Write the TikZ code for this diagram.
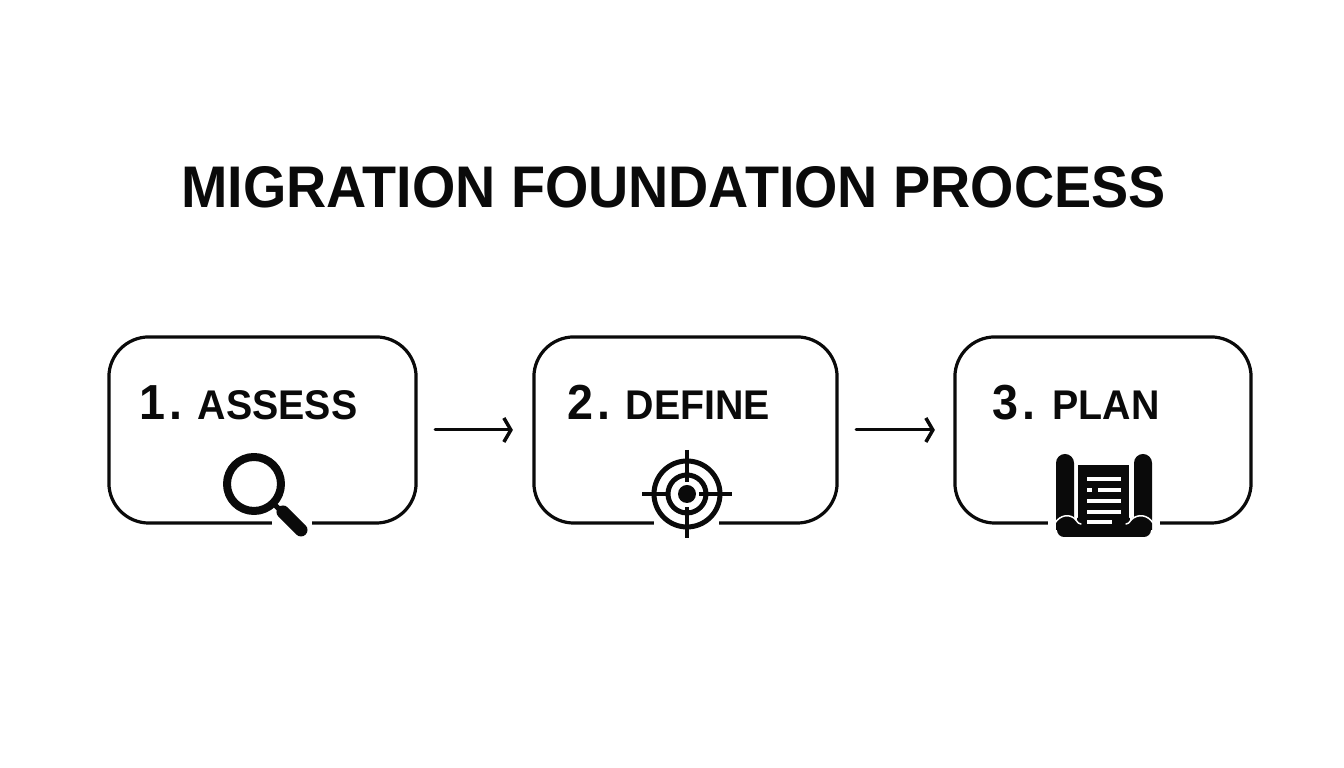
\documentclass[tikz,border=0pt]{standalone}
\usepackage{fontspec}
\setmainfont{Liberation Sans}[FakeStretch=.948]
\usetikzlibrary{arrows.meta}
\tikzset{
  stepbox/.style={draw=inkcol, line width=.032cm, rounded corners=.4cm, minimum height=1.86cm, outer sep=0pt, inner sep=0pt},
  stepnum/.style={anchor=base west, inner sep=0pt, text=inkcol, font=\fontsize{14}{16}\selectfont\bfseries},
  stepname/.style={anchor=base west, inner sep=0pt, text=inkcol, font=\fontsize{11.8}{14}\selectfont\bfseries},
  flow/.style={draw=inkcol, line width=.03cm, -{Straight Barb[length=.07cm,width=.24cm,line width=.035cm]}},
}
\definecolor{inkcol}{HTML}{0A0A0A}
\begin{document}
\begin{tikzpicture}[x=.01cm, y=-.01cm, line join=round, line cap=round]
  \useasboundingbox (0,0) rectangle (1344,768);
  \fill[white] (0,0) rectangle (1344,768);
  \node[anchor=base, inner sep=0pt, text=inkcol, font=\fontsize{16.7}{20}\selectfont\bfseries] (title) at (673.5,208) {MIGRATION FOUNDATION PROCESS};
  \node[stepbox, minimum width=3.07cm] (assess) at (262.5,430) {};
  \node[stepbox, minimum width=3.03cm] (define) at (685.5,430) {};
  \node[stepbox, minimum width=2.96cm] (plan) at (1103,430) {};
  \node[stepnum] (n1) at (139,420) {1\kern.04cm.};
  \node[stepname] (l1) at (197,420) {ASSESS};
  \node[stepnum] (n2) at (567,420) {2\kern.04cm.};
  \node[stepname] (l2) at (625,420) {DEFINE};
  \node[stepnum] (n3) at (992,420) {3\kern.04cm.};
  \node[stepname] (l3) at (1052,420) {PLAN};
  \draw[flow, shorten <=.19cm, shorten >=.21cm] (assess) -- (define);
  \draw[flow, shorten <=.19cm, shorten >=.2cm] (define) -- (plan);
  % gaps in the bottom edges
  \foreach \a/\b in {272/312,654/719,1048/1160}
  \fill[white] (\a,517) rectangle (\b,529);
  % magnifier
  \draw[inkcol, line width=.08cm] (254,484) circle(27);
  \draw[inkcol, line width=.05cm, line cap=butt] (273,503)--(284,514);
  \draw[inkcol, line width=.13cm] (283,512)--(301,530);
  % target
  \draw[inkcol, line width=.05cm] (687,494) circle(33) (687,494) circle(19);
  \fill[inkcol] (687,494) circle(9);
  \draw[inkcol, line width=.045cm, line cap=butt] (642,494)--(670,494) (699,494)--(732,494) (687,450)--(687,482) (687,507)--(687,538);
  % scroll
  \fill[inkcol] (1056,463) arc(180:360:9) -- (1074,530) -- (1056,530) -- cycle;
  \fill[inkcol] (1134,463) arc(180:360:9) -- (1152,530) -- (1134,530) -- cycle;
  \fill[inkcol, rounded corners=.07cm] (1057,518) rectangle (1151,537);
  \fill[inkcol] (1078,465) rectangle (1129,530);
  \draw[white, line width=.015cm] (1076,462)--(1076,520) (1131,462)--(1131,520);
  \draw[white, line width=.015cm] (1055,523) .. controls (1060,515) and (1070,513) .. (1076,520) .. controls (1078,523) and (1079,524) .. (1081,524);
  \draw[white, line width=.015cm] (1153,523) .. controls (1148,515) and (1138,513) .. (1131,520) .. controls (1129,523) and (1128,524) .. (1126,524);
  \foreach \y/\a/\b in {479/1087/1121,490/1098/1121,501/1087/1121,512/1087/1121,522/1087/1112}
  \draw[white, line width=.045cm, line cap=butt] (\a,\y)--(\b,\y);
  \draw[white, line width=.045cm, line cap=butt] (1087,490)--(1092,490);
\end{tikzpicture}
\end{document}
